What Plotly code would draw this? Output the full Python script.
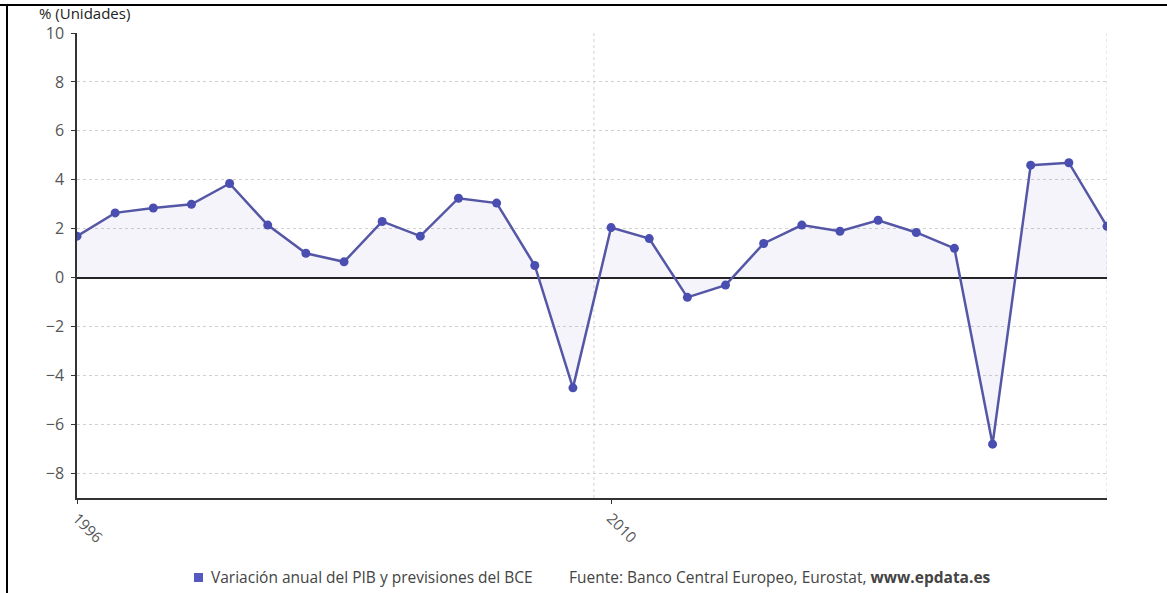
import plotly.graph_objects as go

years = list(range(1996, 2024))
values = [1.7, 2.65, 2.85, 3.0, 3.85, 2.15, 1.0, 0.65, 2.3, 1.7,
          3.25, 3.05, 0.5, -4.5, 2.05, 1.6, -0.8, -0.3, 1.4, 2.15,
          1.9, 2.35, 1.85, 1.2, -6.8, 4.6, 4.7, 2.1]
tick_vals = [1996, 2010]
tick_text = ["1996", "2010"]
y_ticks = [-8, -6, -4, -2, 0, 2, 4, 6, 8, 10]
series_name = "Variación anual del PIB y previsiones del BCE"
source_text = "Fuente: Banco Central Europeo, Eurostat, <b>www.epdata.es</b>"
y_title = "% (Unidades)"

W, H = 1167, 593
L, R, T, B = 77, 60, 33, 95
pw, ph = W - L - R, H - T - B

def px(x):
    return (x - L) / pw

def py(y):
    return (H - B - y) / ph

FONT = "Open Sans, Noto Sans, sans-serif"

fig = go.Figure()
fig.add_trace(go.Scatter(
    x=years, y=values, mode="lines+markers", name=series_name,
    line=dict(color="#5557a6", width=2.5),
    marker=dict(color="#4a4eb0", size=9),
    fill="tozeroy", fillcolor="rgba(100,100,190,0.07)",
    showlegend=False,
))

fig.update_layout(
    width=W, height=H,
    margin=dict(l=L, r=R, t=T, b=B),
    paper_bgcolor="white", plot_bgcolor="white",
    font=dict(family=FONT, color="#555"),
    xaxis=dict(
        range=[1996, 2023], tickmode="array", tickvals=tick_vals, ticktext=tick_text,
        tickangle=45, showgrid=False, zeroline=False,
        showline=True, linecolor="#333", linewidth=1.5,
        ticks="outside", ticklen=4, tickcolor="#333",
        tickfont=dict(size=15, color="#555"),
    ),
    yaxis=dict(
        range=[-9, 10], tickvals=y_ticks,
        showgrid=True, gridcolor="#d0d0d0", griddash="dot", gridwidth=1,
        zeroline=True, zerolinecolor="#222", zerolinewidth=1.5,
        showline=True, linecolor="#333", linewidth=1.5,
        ticks="outside", ticklen=4, tickcolor="#333",
        ticklabelstandoff=4,
        tickfont=dict(size=16, color="#555"),
    ),
    shapes=[
        dict(type="line", xref="x", yref="paper", x0=2009.55, x1=2009.55, y0=0, y1=1,
             line=dict(color="#d0d0d0", width=1, dash="dot"), layer="below"),
        dict(type="line", xref="x", yref="paper", x0=2023, x1=2023, y0=0, y1=1,
             line=dict(color="#d0d0d0", width=1, dash="dot"), layer="below"),
        dict(type="line", xref="paper", yref="paper", x0=px(0), x1=px(W), y0=py(5), y1=py(5),
             line=dict(color="black", width=2)),
        dict(type="line", xref="paper", yref="paper", x0=px(7), x1=px(7), y0=py(5), y1=py(H),
             line=dict(color="black", width=2)),
        dict(type="rect", xref="paper", yref="paper", x0=px(194), x1=px(203), y0=py(582), y1=py(573),
             fillcolor="#5558c0", line=dict(width=0)),
    ],
    annotations=[
        dict(text=y_title, xref="paper", yref="paper", x=px(37), y=py(13),
             xanchor="left", yanchor="middle", showarrow=False,
             font=dict(size=15, color="#222", family=FONT)),
        dict(text=series_name, xref="paper", yref="paper", x=px(209), y=py(577),
             xanchor="left", yanchor="middle", showarrow=False,
             font=dict(size=15.5, color="#444", family=FONT)),
        dict(text=source_text, xref="paper", yref="paper", x=px(567), y=py(577),
             xanchor="left", yanchor="middle", showarrow=False,
             font=dict(size=15.5, color="#444", family=FONT)),
    ],
)

fig.write_html("out.html")
